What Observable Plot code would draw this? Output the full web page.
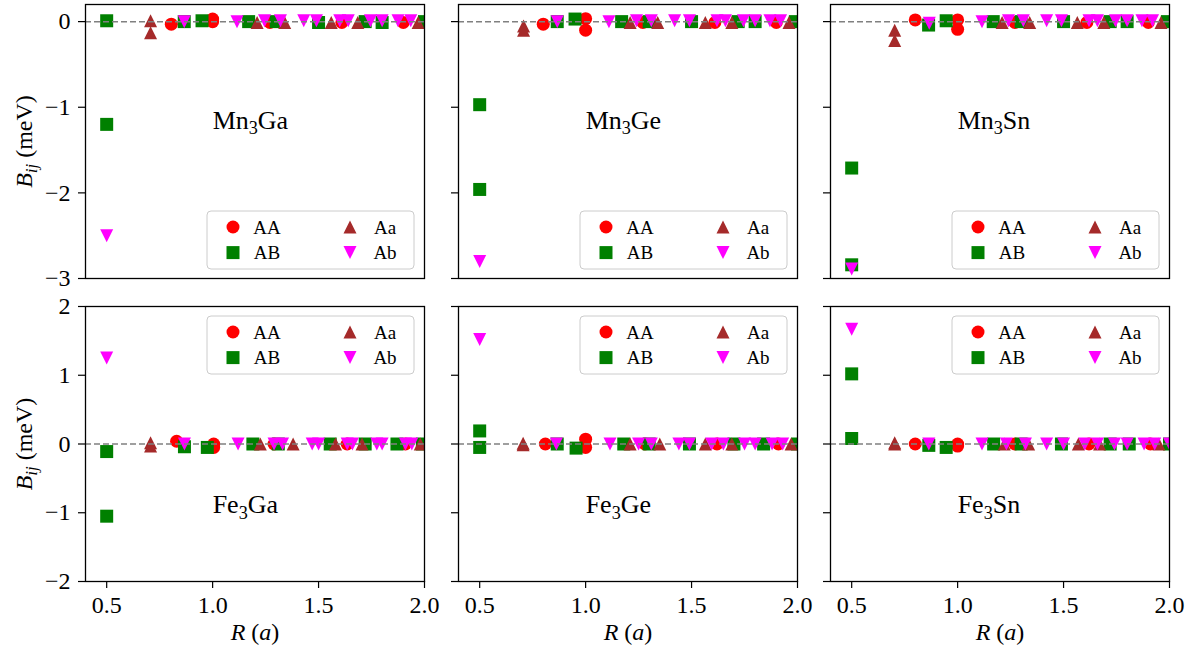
<!DOCTYPE html>
<html><head><meta charset="utf-8">
<script src="https://cdn.jsdelivr.net/npm/d3@7"></script>
<script src="https://cdn.jsdelivr.net/npm/@observablehq/plot@0.6"></script>
<style>
body{margin:0;background:#fff;}
#fig{position:relative;width:1194px;height:645px;overflow:hidden;font-family:Liberation Serif, serif;}
#fig svg, #fig svg text, #fig svg g { font-family:Liberation Serif, serif !important; }
</style></head><body><div id="fig"></div>
<script>
// ---------- data: [R (a), B_ij (meV)] ----------
const MN3GA_AA = [[0.805,-0.03],[1.0,0.03],[1.0,0.0],[1.27,-0.01],[1.61,-0.01],[1.90,-0.01]];
const MN3GA_AB = [[0.5,0.01],[0.5,-1.2],[0.866,0.0],[0.95,0.01],[1.17,0.0],[1.30,0.0],[1.50,-0.01],[1.72,0.0],[1.80,-0.01],[2.0,0.0]];
const MN3GA_Aa = [[0.707,0.01],[0.707,-0.13],[1.21,-0.01],[1.34,-0.01],[1.56,-0.01],[1.685,-0.01],[1.97,-0.01]];
const MN3GA_Ab = [[0.5,-2.5],[0.866,0.0],[1.115,0.0],[1.245,0.01],[1.32,0.01],[1.43,0.01],[1.49,0.01],[1.60,0.01],[1.64,0.01],[1.745,0.01],[1.80,0.01],[1.875,0.01],[1.935,0.01]];

const MN3GE_AA = [[0.80,-0.03],[1.0,0.035],[1.0,-0.10],[1.27,-0.01],[1.61,-0.01],[1.90,-0.01]];
const MN3GE_AB = [[0.5,-0.97],[0.5,-1.96],[0.866,0.0],[0.95,0.03],[1.17,0.0],[1.30,0.0],[1.50,0.0],[1.72,0.0],[1.80,0.0],[1.99,0.0]];
const MN3GE_Aa = [[0.707,-0.05],[0.707,-0.10],[1.21,-0.01],[1.34,-0.01],[1.565,-0.01],[1.69,-0.01],[1.96,-0.01]];
const MN3GE_Ab = [[0.5,-2.8],[0.866,0.0],[1.11,0.0],[1.24,0.01],[1.31,0.01],[1.42,0.01],[1.49,0.01],[1.62,0.01],[1.66,0.01],[1.745,0.01],[1.80,0.01],[1.87,0.01],[1.92,0.01]];

const MN3SN_AA = [[0.80,0.02],[1.0,0.02],[1.0,-0.09],[1.27,-0.01],[1.61,-0.01],[1.90,-0.01]];
const MN3SN_AB = [[0.5,-1.71],[0.5,-2.84],[0.863,-0.04],[0.946,0.01],[1.168,0.0],[1.30,0.0],[1.50,0.0],[1.72,0.0],[1.80,0.0],[1.99,0.0]];
const MN3SN_Aa = [[0.703,-0.10],[0.703,-0.22],[1.21,-0.01],[1.34,-0.01],[1.565,-0.01],[1.69,-0.01],[1.96,-0.01]];
const MN3SN_Ab = [[0.5,-2.89],[0.866,-0.02],[1.115,0.0],[1.24,0.01],[1.31,0.01],[1.42,0.01],[1.49,0.01],[1.62,0.01],[1.66,0.01],[1.745,0.01],[1.80,0.01],[1.87,0.01],[1.92,0.01]];

const FE3GA_AA = [[0.83,0.04],[1.005,-0.05],[1.005,0.0],[1.29,0.0],[1.635,0.0],[1.91,0.0]];
const FE3GA_AB = [[0.5,-0.11],[0.5,-1.05],[0.867,-0.04],[0.975,-0.05],[1.19,0.0],[1.31,0.0],[1.555,0.0],[1.72,0.0],[1.87,0.0],[1.99,0.0]];
const FE3GA_Aa = [[0.707,0.02],[0.707,-0.03],[1.225,0.0],[1.38,0.0],[1.58,0.0],[1.705,0.0],[1.98,0.0]];
const FE3GA_Ab = [[0.5,1.25],[0.867,0.0],[1.12,0.0],[1.29,0.0],[1.33,0.0],[1.47,0.0],[1.50,0.0],[1.635,0.0],[1.66,0.0],[1.775,0.0],[1.80,0.0],[1.91,0.0],[1.94,0.0]];

const FE3GE_AA = [[0.81,0.0],[1.0,0.07],[1.0,-0.05],[1.28,0.0],[1.62,0.0],[1.91,0.0]];
const FE3GE_AB = [[0.5,0.19],[0.5,-0.05],[0.866,0.0],[0.955,-0.06],[1.18,0.0],[1.30,0.0],[1.49,0.0],[1.70,0.0],[1.84,0.0],[2.0,0.0]];
const FE3GE_Aa = [[0.705,0.01],[0.705,-0.01],[1.21,0.0],[1.35,0.0],[1.565,0.0],[1.69,0.0],[1.97,0.0]];
const FE3GE_Ab = [[0.5,1.52],[0.862,0.0],[1.115,0.0],[1.25,0.0],[1.31,0.0],[1.44,0.0],[1.49,0.0],[1.595,0.0],[1.65,0.0],[1.75,0.0],[1.80,0.0],[1.88,0.0],[1.93,0.0]];

const FE3SN_AA = [[0.80,0.0],[1.0,-0.03],[1.0,0.0],[1.27,0.0],[1.62,0.0],[1.91,0.0]];
const FE3SN_AB = [[0.5,1.02],[0.5,0.08],[0.864,-0.02],[0.946,-0.05],[1.17,0.0],[1.30,0.0],[1.49,0.0],[1.72,0.0],[1.81,0.0],[2.0,0.0]];
const FE3SN_Aa = [[0.703,0.02],[0.703,0.0],[1.22,0.0],[1.335,0.0],[1.57,0.0],[1.67,0.0],[1.95,0.0]];
const FE3SN_Ab = [[0.5,1.67],[0.864,0.0],[1.115,0.0],[1.23,0.0],[1.32,0.0],[1.42,0.0],[1.50,0.0],[1.60,0.0],[1.66,0.0],[1.74,0.0],[1.80,0.0],[1.88,0.0],[1.93,0.0],[2.0,0.0]];

const compounds = ["Mn3Ga","Mn3Ge","Mn3Sn","Fe3Ga","Fe3Ge","Fe3Sn"];
const seriesNames = ["AA","AB","Aa","Ab"];
const seriesColors = ["#ff0000","#008000","#a52a2a","#ff00ff"];
const xTicks = [0.5,1.0,1.5,2.0];
const yTicksTop = [0,-1,-2,-3];
const yTicksBottom = [-2,-1,0,1,2];
const yDomainTop = [-3,0.2];
const yDomainBottom = [-2,2];
const xDomain = [0.4,2.0];
const nameR = 1.0;           // x of compound label (left edge)
const nameB = [-1.25,-1.0];  // y of compound label baseline per row

const panelData = [
  [MN3GA_AA,MN3GA_AB,MN3GA_Aa,MN3GA_Ab],
  [MN3GE_AA,MN3GE_AB,MN3GE_Aa,MN3GE_Ab],
  [MN3SN_AA,MN3SN_AB,MN3SN_Aa,MN3SN_Ab],
  [FE3GA_AA,FE3GA_AB,FE3GA_Aa,FE3GA_Ab],
  [FE3GE_AA,FE3GE_AB,FE3GE_Aa,FE3GE_Ab],
  [FE3SN_AA,FE3SN_AB,FE3SN_Aa,FE3SN_Ab]
];

// ---------- marker shapes (matplotlib-like: o, s, ^, v) ----------
const rad = s => Math.sqrt(s / Math.PI);
const SYMBOLS = [
  {draw(c, s){ const r = rad(s); c.moveTo(r,0); c.arc(0,0,r,0,2*Math.PI); }},
  {draw(c, s){ const r = rad(s); c.rect(-r,-r,2*r,2*r); }},
  {draw(c, s){ const r = rad(s); c.moveTo(0,-r); c.lineTo(r,r); c.lineTo(-r,r); c.closePath(); }},
  {draw(c, s){ const r = rad(s); c.moveTo(0,r); c.lineTo(r,-r); c.lineTo(-r,-r); c.closePath(); }}
];
const MR = 6.5;
const SERIF = "Liberation Serif, serif";

// ---------- rich text (sub/italic) ----------
const RICH = {
  "B_ij (meV)": [["B","i"],["ij","is"],[" (meV)",""]],
  "R (a)": [["R","i"],[" (",""],["a","i"],[")",""]]
};
compounds.forEach(n => { RICH[n] = [[n.slice(0,2),""],["3","s"],[n.slice(3),""]]; });
function enrich(svg){
  const ns = "http://www.w3.org/2000/svg";
  svg.querySelectorAll("text").forEach(t => {
    t.setAttribute("font-family", SERIF);
    const segs = RICH[t.textContent];
    if (!segs) return;
    t.textContent = "";
    let sub = false;
    for (const [s,f] of segs){
      const ts = document.createElementNS(ns,"tspan");
      ts.textContent = s;
      if (f.includes("i")) ts.setAttribute("font-style","italic");
      if (f.includes("s")) { ts.setAttribute("font-size","70%"); ts.setAttribute("dy","0.32em"); sub = true; }
      else if (sub) { ts.setAttribute("dy","-0.224em"); sub = false; }
      t.appendChild(ts);
    }
  });
}

// ---------- layout ----------
const FRAME_W = 339;
const colLeft = [85,458,830];
const rowTop = [4,306];
const rowH = [274,275];

function fmtY(d){ return d < 0 ? "\u2212" + (-d) : String(d); }
const fmtX = d3.format(".1f");

function addLegend(svg, ml, mt, h, row){
  const W = 207, H = 58;
  const top = row === 0 ? mt + h - 9 - H : mt + 10;
  const g = d3.select(svg).append("g").attr("transform", `translate(${ml + 122},${top})`);
  g.append("rect").attr("width",W).attr("height",H).attr("rx",4)
    .attr("fill","white").attr("fill-opacity",0.8).attr("stroke","#cccccc").attr("stroke-width",1);
  seriesNames.forEach((name,k) => {
    const col = Math.floor(k/2), r = k % 2;
    const cy = 16 + r*25.6;
    g.append("path").attr("transform",`translate(${26 + col*117},${cy})`)
      .attr("d", d3.symbol(SYMBOLS[k], Math.PI*MR*MR)()).attr("fill", seriesColors[k]);
    g.append("text").attr("x", 60 + col*118).attr("y", cy + 6.5).style("font-size","19px")
      .attr("font-family", SERIF).attr("fill","black").text(name);
  });
}

const fig = document.getElementById("fig");
compounds.forEach((name, i) => {
  const row = Math.floor(i/3), col = i % 3;
  const ml = col === 0 ? 85 : 12, mr = 20;
  const mt = row === 0 ? 4 : 10, mb = row === 0 ? 12 : 64;
  const h = rowH[row];
  const marks = [];
  marks.push(Plot.axisY({
    ticks: row === 0 ? yTicksTop : yTicksBottom,
    tickSize: 7, tickPadding: 8, fontSize: 24, strokeWidth: 1.2,
    tickFormat: col === 0 ? fmtY : () => null,
    label: col === 0 ? "B_ij (meV)" : null,
    labelAnchor: "center", labelOffset: 71, labelArrow: "none"
  }));
  if (row === 1) marks.push(Plot.axisX({
    ticks: xTicks, tickSize: 7, tickPadding: 7, fontSize: 24, strokeWidth: 1.2,
    tickFormat: fmtX, label: "R (a)", labelAnchor: "center", labelOffset: 58, labelArrow: "none"
  }));
  panelData[i].forEach((data, k) => {
    marks.push(Plot.dot(data, {x: d => d[0], y: d => d[1], symbol: SYMBOLS[k], r: MR, fill: seriesColors[k], clip: true}));
  });
  marks.push(Plot.ruleY([0], {stroke: "#808080", strokeWidth: 1.5, strokeDasharray: "6,3"}));
  marks.push(Plot.text([name], {x: nameR, y: nameB[row], text: d => d, textAnchor: "start", lineAnchor: "bottom", fontSize: 26, fill: "black"}));
  marks.push(Plot.frame({stroke: "black", strokeWidth: 1.3}));
  const svg = Plot.plot({
    width: ml + FRAME_W + mr, height: mt + h + mb,
    marginLeft: ml, marginRight: mr, marginTop: mt, marginBottom: mb,
    style: {background: "transparent", overflow: "visible", fontFamily: SERIF, color: "black"},
    x: {domain: xDomain, axis: row === 0 ? null : undefined},
    y: {domain: row === 0 ? yDomainTop : yDomainBottom},
    marks
  });
  svg.setAttribute("font-family", SERIF);
  enrich(svg);
  addLegend(svg, ml, mt, h, row);
  svg.style.position = "absolute";
  svg.style.left = (colLeft[col] - ml) + "px";
  svg.style.top = (rowTop[row] - mt) + "px";
  fig.appendChild(svg);
});
</script></body></html>
